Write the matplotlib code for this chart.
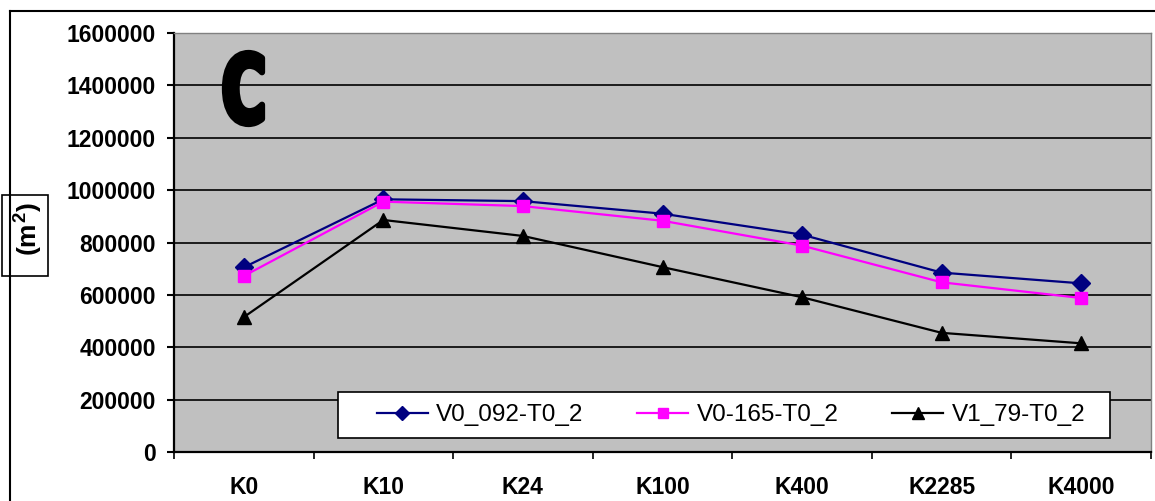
import matplotlib
matplotlib.use("Agg")
import matplotlib.pyplot as plt
from matplotlib.lines import Line2D
from matplotlib.patches import Rectangle, PathPatch
from matplotlib.textpath import TextPath
from matplotlib.font_manager import FontProperties
from matplotlib.path import Path
import numpy as np

categories = ["K0", "K10", "K24", "K100", "K400", "K2285", "K4000"]
v0_092 = [705000, 965000, 958000, 910000, 830000, 685000, 644000]
v0_165 = [672000, 956000, 939000, 883000, 788000, 648000, 588000]
v1_79 = [515000, 886000, 825000, 706000, 591000, 455000, 415000]
series_names = ["V0_092-T0_2", "V0-165-T0_2", "V1_79-T0_2"]
y_ticks = [0, 200000, 400000, 600000, 800000, 1000000, 1200000, 1400000, 1600000]

plt.rcParams["font.family"] = ["Liberation Sans", "DejaVu Sans"]
plt.rcParams["mathtext.fontset"] = "custom"
plt.rcParams["mathtext.rm"] = "Liberation Sans:bold"
plt.rcParams["mathtext.it"] = "Liberation Sans:bold"
plt.rcParams["mathtext.bf"] = "Liberation Sans:bold"

W, H = 1155, 501
fig = plt.figure(figsize=(W / 100, H / 100), dpi=100)
fig.patch.set_facecolor("white")

# outer chart frame (left and top edges visible)
fig.add_artist(Line2D([10 / W, 10 / W], [0, 1 - 11 / H], transform=fig.transFigure,
                      color="black", lw=1.5))
fig.add_artist(Line2D([10 / W, 1.0], [1 - 11 / H, 1 - 11 / H], transform=fig.transFigure,
                      color="black", lw=1.5))

ax = fig.add_axes([174 / W, 1 - 452 / H, (1151 - 174) / W, (452 - 33) / H])
ax.set_facecolor("#C0C0C0")

x = np.arange(len(categories))
ax.set_xlim(-0.5, len(categories) - 0.5)
ax.set_ylim(0, 1600000)

for yv in y_ticks[1:-1]:
    ax.axhline(yv, color="black", lw=1.2, zorder=1)

ax.plot(x, v0_092, color="#000080", lw=1.6, marker="D", ms=9,
        mfc="#000080", mec="#000080", label=series_names[0], zorder=3)
ax.plot(x, v0_165, color="#FF00FF", lw=1.6, marker="s", ms=9,
        mfc="#FF00FF", mec="#FF00FF", label=series_names[1], zorder=3)
ax.plot(x, v1_79, color="black", lw=1.6, marker="^", ms=10,
        mfc="black", mec="black", label=series_names[2], zorder=3)

ax.set_yticks(y_ticks)
ax.set_yticklabels([str(v) for v in y_ticks], fontsize=16.5, fontweight="bold")
ax.tick_params(axis="y", direction="out", length=5, width=1.5, pad=8)

ax.set_xticks(x)
ax.set_xticklabels(categories, fontsize=16.5, fontweight="bold")
ax.set_xticks(np.arange(len(categories) + 1) - 0.5, minor=True)
ax.tick_params(axis="x", which="major", length=0, pad=17)
ax.tick_params(axis="x", which="minor", direction="out", length=5, width=1.2)

for side in ("left", "bottom"):
    ax.spines[side].set_color("black")
    ax.spines[side].set_linewidth(1.6)
for side in ("top", "right"):
    ax.spines[side].set_color("#808080")
    ax.spines[side].set_linewidth(1.0)

# panel letter: heavy, narrow "C" fitted to a box (pixel coords, top-left origin)
tp = TextPath((0, 0), "C", size=100, prop=FontProperties(family="DejaVu Sans", weight="bold"))
verts = tp.vertices.copy()
x0, y0 = verts[:, 0].min(), verts[:, 1].min()
x1, y1 = verts[:, 0].max(), verts[:, 1].max()
bx0, bx1, by_top, by_bot = 222, 262, 53, 124
fx = bx0 + (verts[:, 0] - x0) / (x1 - x0) * (bx1 - bx0)
fy = by_bot - (verts[:, 1] - y0) / (y1 - y0) * (by_bot - by_top)
letter = Path(np.column_stack([fx / W, 1 - fy / H]), tp.codes)
fig.add_artist(PathPatch(letter, transform=fig.transFigure, facecolor="black",
                         edgecolor="black", lw=4.5, joinstyle="round"))

# legend box drawn separately, entries laid out inside it
legend_box = Rectangle((338 / W, 1 - 438 / H), (1110 - 338) / W, (438 - 392) / H,
                       transform=fig.transFigure, facecolor="white", edgecolor="black",
                       lw=1.2, zorder=4)
ax.add_artist(legend_box)
leg = ax.legend(loc="center", bbox_to_anchor=(731 / W, 1 - 415 / H),
                bbox_transform=fig.transFigure, ncol=3, fontsize=17.5,
                frameon=False, handlelength=2.1, handletextpad=0.35,
                columnspacing=2.2, borderpad=0.2, markerscale=0.8)
leg.set_zorder(5)

# y-axis unit label in a box
fig.add_artist(Rectangle((2 / W, 1 - 276 / H), 46 / W, 81 / H, transform=fig.transFigure,
                         facecolor="white", edgecolor="black", lw=1.2))
fig.text(29 / W, 1 - 229 / H, r"$(m^2)$", rotation=90, fontsize=19,
         ha="center", va="center")

fig.savefig("out.png", dpi=100)
